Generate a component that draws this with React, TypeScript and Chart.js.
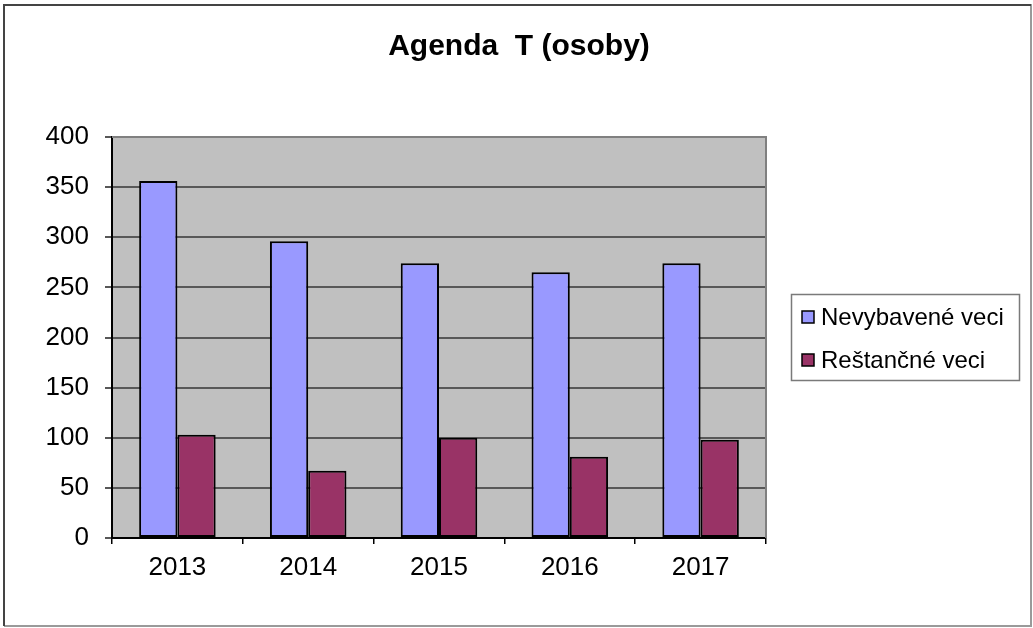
import React, { useEffect, useRef } from "react";
import { Chart, registerables } from "chart.js";

Chart.register(...registerables);

const categories = ["2013", "2014", "2015", "2016", "2017"];
const nevybavene = [356, 296, 274, 265, 274];
const restancne = [103, 67, 100, 81, 98];
const seriesNames = ["Nevybavené veci", "Reštančné veci"];
const seriesColors = ["#9999FF", "#993366"];
const titleText = "Agenda  T (osoby)";

const FONT = "'Liberation Sans', Arial, sans-serif";

const framePlugin = {
  id: "framePlugin",
  beforeDraw(chart: any) {
    const { ctx, chartArea } = chart;
    ctx.save();
    ctx.fillStyle = "#ffffff";
    ctx.fillRect(0, 0, chart.width, chart.height);
    ctx.fillStyle = "#C0C0C0";
    ctx.fillRect(chartArea.left, chartArea.top, chartArea.right - chartArea.left, chartArea.bottom - chartArea.top);
    ctx.restore();
  },
  afterDraw(chart: any) {
    const { ctx, chartArea } = chart;
    ctx.save();
    // plot area top/right border
    ctx.strokeStyle = "#808080";
    ctx.lineWidth = 2;
    ctx.beginPath();
    ctx.moveTo(chartArea.left, chartArea.top);
    ctx.lineTo(chartArea.right, chartArea.top);
    ctx.lineTo(chartArea.right, chartArea.bottom);
    ctx.stroke();

    // title
    ctx.fillStyle = "#000";
    ctx.font = `bold 30px ${FONT}`;
    ctx.textAlign = "center";
    ctx.textBaseline = "middle";
    ctx.fillText(titleText, 519, 47);

    // legend
    const lx = 791, ly = 294, lw = 228, lh = 86;
    ctx.strokeStyle = "#7a7a7a";
    ctx.lineWidth = 1.5;
    ctx.strokeRect(lx + 0.5, ly + 0.5, lw, lh);
    const ds = chart.data.datasets;
    ctx.font = `24px ${FONT}`;
    ctx.textBaseline = "middle";
    ctx.textAlign = "left";
    ds.forEach((d: any, i: number) => {
      const cy = ly + 23 + i * 43;
      ctx.fillStyle = d.backgroundColor;
      ctx.fillRect(802, cy - 6, 12, 12);
      ctx.strokeStyle = "#000";
      ctx.lineWidth = 1.5;
      ctx.strokeRect(802, cy - 6, 12, 12);
      ctx.fillStyle = "#000";
      ctx.fillText(d.label, 821, cy + 1);
    });

    // outer frame
    ctx.lineWidth = 2;
    ctx.strokeStyle = "#9a9a9a";
    ctx.beginPath();
    ctx.moveTo(1031, 4);
    ctx.lineTo(1031, 626);
    ctx.lineTo(4, 626);
    ctx.stroke();
    ctx.strokeStyle = "#444";
    ctx.beginPath();
    ctx.moveTo(4, 626);
    ctx.lineTo(4, 5);
    ctx.lineTo(1031, 5);
    ctx.stroke();
    ctx.restore();
  },
};

export default function App() {
  const ref = useRef<HTMLCanvasElement | null>(null);
  useEffect(() => {
    document.body.style.margin = "0";
    document.body.style.overflow = "hidden";
    if (!ref.current) return;
    const barCommon = {
      borderColor: "#000",
      borderWidth: 2,
      borderSkipped: false,
      categoryPercentage: 0.585,
      barPercentage: 1,
    };
    const chart = new Chart(ref.current, {
      type: "bar",
      data: {
        labels: categories,
        datasets: [
          { label: seriesNames[0], data: nevybavene, backgroundColor: seriesColors[0], ...barCommon },
          { label: seriesNames[1], data: restancne, backgroundColor: seriesColors[1], ...barCommon },
        ],
      },
      options: {
        responsive: false,
        animation: false,
        layout: { padding: { left: 0, right: 267, top: 137, bottom: 0 } },
        plugins: {
          legend: { display: false },
          tooltip: { enabled: false },
          title: { display: false },
        },
        scales: {
          x: {
            grid: {
              display: true,
              drawOnChartArea: false,
              offset: true,
              tickLength: 6,
              color: "#000",
              lineWidth: 1.5,
            },
            border: { display: true, color: "#000", width: 2 },
            ticks: {
              color: "#000",
              font: { family: FONT, size: 26 },
              padding: 8,
              maxRotation: 0,
            },
            afterFit(scale: any) {
              scale.height = 90;
            },
          },
          y: {
            min: 0,
            max: 400,
            grid: {
              color: "#585858",
              lineWidth: 2,
              tickLength: 7,
            },
            border: { display: true, color: "#000", width: 2 },
            ticks: {
              stepSize: 50,
              color: "#000",
              font: { family: FONT, size: 26 },
              padding: 16,
            },
            afterFit(scale: any) {
              scale.width = 112;
            },
          },
        },
      },
      plugins: [framePlugin],
    });
    return () => chart.destroy();
  }, []);
  return (
    <div style={{ position: "fixed", left: 0, top: 0, width: 1033, height: 628 }}>
      <canvas ref={ref} width={1033} height={628} />
    </div>
  );
}
